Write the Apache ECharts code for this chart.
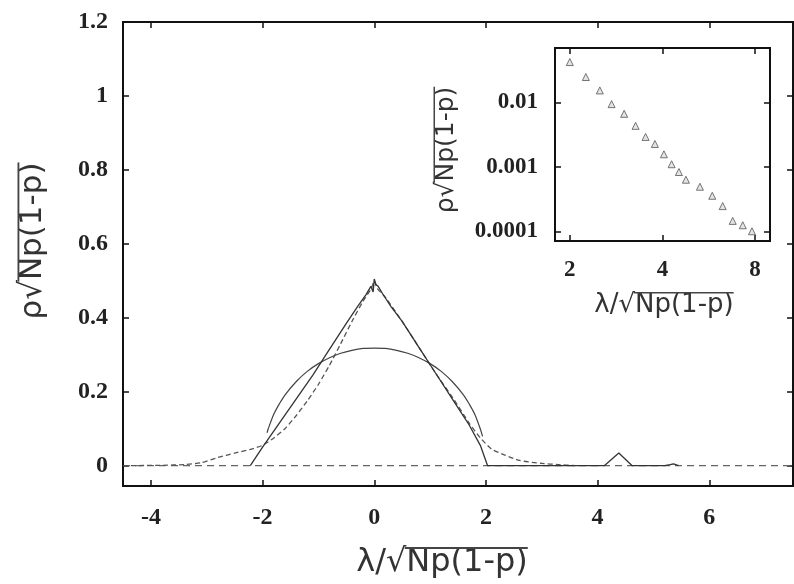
<!DOCTYPE html>
<html>
<head>
<meta charset="utf-8">
<script src="https://cdn.jsdelivr.net/npm/echarts@6/dist/echarts.min.js"></script>
<style>html,body{margin:0;padding:0;background:#fff}#c{width:794px;height:584px}</style>
</head>
<body>
<div id="c"></div>
<script>
// ---- data ----
var xTicks = [-4, -2, 0, 2, 4, 6];
var yTicks = [0, 0.2, 0.4, 0.6, 0.8, 1, 1.2];

// semicircle curve
var semiX = [-1.92, -1.9, -1.8, -1.7, -1.6, -1.4, -1.2, -1.0, -0.8, -0.6, -0.4, -0.2, 0, 0.2, 0.4, 0.6, 0.8, 1.0, 1.2, 1.4, 1.6, 1.7, 1.8, 1.9, 1.94];
var semiY = [0.089, 0.099, 0.139, 0.167, 0.191, 0.227, 0.255, 0.276, 0.292, 0.304, 0.312, 0.317, 0.318, 0.317, 0.312, 0.304, 0.292, 0.276, 0.255, 0.227, 0.191, 0.167, 0.139, 0.099, 0.079];

// solid triangle-shaped curve
var triX = [-2.22, -2.0, -1.7, -1.4, -1.1, -0.8, -0.5, -0.3, -0.15, -0.06, -0.02, 0.0, 0.03, 0.07, 0.15, 0.3, 0.5, 0.8, 1.1, 1.4, 1.7, 1.9, 2.03, 3.0, 4.12, 4.38, 4.62, 5.2, 5.3, 5.36, 5.45];
var triY = [0.0, 0.05, 0.115, 0.18, 0.245, 0.315, 0.385, 0.43, 0.462, 0.485, 0.47, 0.505, 0.49, 0.485, 0.465, 0.43, 0.39, 0.32, 0.25, 0.18, 0.11, 0.055, 0.0, 0.0, 0.0, 0.034, 0.0, 0.0, 0.003, 0.005, 0.0];

// dashed curve with tails
var dashX = [-4.5, -3.8, -3.4, -3.1, -2.8, -2.5, -2.2, -2.0, -1.8, -1.6, -1.4, -1.2, -1.0, -0.8, -0.6, -0.4, -0.2, -0.05, 0.0, 0.05, 0.2, 0.5, 0.8, 1.1, 1.4, 1.7, 1.9, 2.1, 2.35, 2.6, 3.0, 3.3, 3.6];
var dashY = [0.0, 0.001, 0.003, 0.008, 0.022, 0.034, 0.045, 0.055, 0.075, 0.1, 0.135, 0.175, 0.22, 0.272, 0.33, 0.39, 0.445, 0.48, 0.5, 0.48, 0.455, 0.39, 0.32, 0.25, 0.185, 0.115, 0.075, 0.045, 0.028, 0.014, 0.006, 0.003, 0.0];

// zero axis
var zeroX = [-4.5, 7.5];
var zeroY = [0, 0];

// inset (log-log)
var insetX = [2.0, 2.255, 2.504, 2.734, 3.004, 3.272, 3.526, 3.781, 4.045, 4.285, 4.526, 4.77, 5.297, 5.81, 6.28, 6.77, 7.30, 7.82];
var insetY = [0.0425, 0.0249, 0.0154, 0.00944, 0.00667, 0.00434, 0.00292, 0.00227, 0.00157, 0.0011, 0.000833, 0.000632, 0.000492, 0.000356, 0.000246, 0.000145, 0.000124, 0.0001];

// axis titles
var xPrefix = '\u03bb/\u221a', yPrefix = '\u03c1\u221a', rootBody = 'Np(1-p)';

function zip(a, b) { return a.map(function (v, i) { return [v, b[i]]; }); }

var mctx = document.createElement('canvas').getContext('2d');
function measure(txt, size) { mctx.font = size + 'px "DejaVu Sans"'; return mctx.measureText(txt).width; }

// title text + overline (sqrt bar) as graphic elements
function title(prefix, cx, cy, size, rotated) {
  var wP = measure(prefix, size), wB = measure(rootBody, size), tot = wP + wB;
  var els = [{ type: 'text', x: cx, y: cy, rotation: rotated ? Math.PI / 2 : 0, z: 100,
    style: { text: prefix + rootBody, font: size + 'px "DejaVu Sans"', fill: '#333', align: 'center', verticalAlign: 'middle' } }];
  var off = size * 0.47, lw = Math.max(1.5, size * 0.06);
  var shape = rotated
    ? { x1: cx - off, y1: cy + tot / 2 - wP + size * 0.05, x2: cx - off, y2: cy - tot / 2 }
    : { x1: cx - tot / 2 + wP - size * 0.05, y1: cy - off, x2: cx + tot / 2, y2: cy - off };
  els.push({ type: 'line', z: 100, shape: shape, style: { stroke: '#444', lineWidth: lw } });
  return els;
}

var tickFont = { fontFamily: 'Liberation Serif', fontWeight: 'bold', fontSize: 24, color: '#222' };
var insetFont = { fontFamily: 'Liberation Serif', fontWeight: 'bold', fontSize: 23, color: '#222' };
var lineAx = { show: true, onZero: false, lineStyle: { color: '#111', width: 2 } };
var tickIn = function (vals) { return { show: true, inside: true, length: 6, lineStyle: { color: '#111', width: 1.5 }, customValues: vals }; };
var logTick = { show: true, inside: true, length: 6, lineStyle: { color: '#111', width: 1.5 } };

var chart = echarts.init(document.getElementById('c'), null, { renderer: 'canvas' });
var option = {
  animation: false,
  backgroundColor: '#fff',
  grid: [
    { left: 123, top: 22, right: 1, bottom: 98, show: true, borderColor: '#111', borderWidth: 2, backgroundColor: 'transparent' },
    { left: 555, top: 48, width: 215, height: 193, show: true, borderColor: '#111', borderWidth: 2, backgroundColor: '#fff', z: 10 }
  ],
  xAxis: [
    { type: 'value', gridIndex: 0, min: -4.5, max: 7.5, position: 'bottom',
      axisLine: lineAx, axisTick: tickIn(xTicks), splitLine: { show: false },
      axisLabel: Object.assign({ customValues: xTicks, margin: 20 }, tickFont) },
    { type: 'value', gridIndex: 0, min: -4.5, max: 7.5, position: 'top',
      axisLine: lineAx, axisTick: tickIn(xTicks), splitLine: { show: false }, axisLabel: { show: false } },
    { type: 'log', logBase: 2, gridIndex: 1, min: 1.79, max: 8.95, position: 'bottom', z: 11,
      axisLine: lineAx, axisTick: logTick, splitLine: { show: false }, minorTick: { show: false },
      axisLabel: Object.assign({ margin: 18, showMinLabel: false, showMaxLabel: false,
        formatter: function (v) { return String(Math.round(v)); } }, insetFont) },
    { type: 'log', logBase: 2, gridIndex: 1, min: 1.79, max: 8.95, position: 'top', z: 11,
      axisLine: lineAx, axisTick: logTick, splitLine: { show: false }, axisLabel: { show: false } }
  ],
  yAxis: [
    { type: 'value', gridIndex: 0, min: -0.055, max: 1.2, position: 'left',
      axisLine: lineAx, axisTick: tickIn(yTicks), splitLine: { show: false },
      axisLabel: Object.assign({ customValues: yTicks, margin: 15,
        formatter: function (v) { return String(+v.toFixed(1)); } }, tickFont) },
    { type: 'value', gridIndex: 0, min: -0.055, max: 1.2, position: 'right',
      axisLine: lineAx, axisTick: tickIn(yTicks), splitLine: { show: false }, axisLabel: { show: false } },
    { type: 'log', logBase: 10, gridIndex: 1, min: 7.06e-5, max: 0.0703, position: 'left', z: 11,
      axisLine: lineAx, axisTick: logTick, splitLine: { show: false },
      axisLabel: Object.assign({ margin: 17, showMinLabel: false, showMaxLabel: false,
        formatter: function (v) { return String(+v.toPrecision(2)); } }, insetFont) },
    { type: 'log', logBase: 10, gridIndex: 1, min: 7.06e-5, max: 0.0703, position: 'right', z: 11,
      axisLine: lineAx, axisTick: logTick, splitLine: { show: false }, axisLabel: { show: false } }
  ],
  graphic: [].concat(
    title(xPrefix, 442, 563, 32, false),
    title(yPrefix, 33, 241, 31, true),
    title(xPrefix, 664, 305, 26, false),
    title(yPrefix, 446, 150, 25, true)
  ),
  series: [
    { type: 'line', xAxisIndex: 0, yAxisIndex: 0, data: zip(zeroX, zeroY), showSymbol: false,
      lineStyle: { color: '#666', width: 1.2, type: [7, 5] } },
    { type: 'line', xAxisIndex: 0, yAxisIndex: 0, data: zip(dashX, dashY), showSymbol: false, smooth: 0.2,
      lineStyle: { color: '#555', width: 1.3, type: [5, 3] } },
    { type: 'line', xAxisIndex: 0, yAxisIndex: 0, data: zip(semiX, semiY), showSymbol: false, smooth: 0.3,
      lineStyle: { color: '#444', width: 1.2 } },
    { type: 'line', xAxisIndex: 0, yAxisIndex: 0, data: zip(triX, triY), showSymbol: false,
      lineStyle: { color: '#333', width: 1.3 } },
    { type: 'scatter', xAxisIndex: 2, yAxisIndex: 2, data: zip(insetX, insetY), symbol: 'triangle', symbolSize: 7, z: 12,
      itemStyle: { color: '#ddd', borderColor: '#555', borderWidth: 1 } }
  ]
};
chart.setOption(option);
</script>
</body>
</html>
